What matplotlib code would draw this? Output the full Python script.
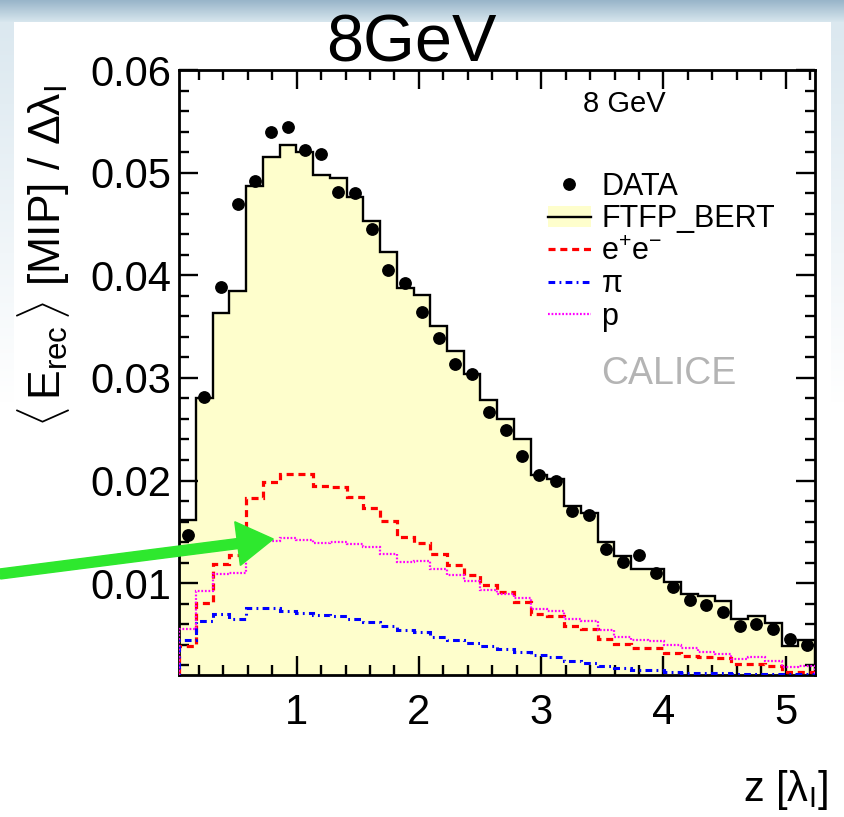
import numpy as np
import matplotlib
matplotlib.use("Agg")
import matplotlib.pyplot as plt
from matplotlib.patches import Patch, FancyArrow
from matplotlib.lines import Line2D
from matplotlib.ticker import MultipleLocator, FixedLocator
from matplotlib.transforms import IdentityTransform

plt.rcParams['font.family'] = ['Liberation Sans', 'DejaVu Sans']
plt.rcParams['mathtext.fontset'] = 'custom'
plt.rcParams['mathtext.rm'] = 'Liberation Sans'
plt.rcParams['mathtext.it'] = 'Liberation Sans:italic'
plt.rcParams['mathtext.bf'] = 'Liberation Sans:bold'

# ---------------- data ----------------
z_range = (0.04, 5.24)   # histogram range in lambda_I
n_bins = 38

data_vals = [0.0147, 0.0281, 0.0389, 0.0469, 0.0492, 0.0540, 0.0544, 0.0522, 0.0518, 0.0481,
             0.0480, 0.0445, 0.0405, 0.0392, 0.0364, 0.0339, 0.0314, 0.0304, 0.0267, 0.0249,
             0.0224, 0.0205, 0.0200, 0.0170, 0.0166, 0.0133, 0.0121, 0.0127, 0.0110, 0.0096,
             0.0084, 0.0079, 0.0072, 0.0058, 0.0060, 0.0055, 0.0046, 0.0040]

ftfp_bert = [0.0162, 0.0280, 0.0363, 0.0385, 0.0487, 0.0515, 0.0527, 0.0520, 0.0498, 0.0495,
             0.0476, 0.0453, 0.0423, 0.0388, 0.0381, 0.0351, 0.0326, 0.0304, 0.0278, 0.0260,
             0.0240, 0.0205, 0.0201, 0.0175, 0.0168, 0.0140, 0.0126, 0.0114, 0.0114, 0.0101,
             0.0089, 0.0087, 0.0083, 0.0065, 0.0068, 0.0061, 0.0039, 0.0045]

ee_comp = [0.0039, 0.0081, 0.0119, 0.0127, 0.0183, 0.0199, 0.0206, 0.0206, 0.0195, 0.0194,
           0.0184, 0.0173, 0.0161, 0.0145, 0.0139, 0.0128, 0.0118, 0.0108, 0.0098, 0.0091,
           0.0082, 0.0070, 0.0068, 0.0058, 0.0055, 0.0046, 0.0041, 0.0037, 0.0037, 0.0032,
           0.0029, 0.0028, 0.0027, 0.0021, 0.0021, 0.0019, 0.0013, 0.0013]

pi_comp = [0.0045, 0.0063, 0.0070, 0.0065, 0.0076, 0.0076, 0.0073, 0.0071, 0.0069, 0.0068,
           0.0065, 0.0062, 0.0058, 0.0054, 0.0052, 0.0048, 0.0045, 0.0042, 0.0039, 0.0036,
           0.0033, 0.0030, 0.0028, 0.0024, 0.0022, 0.0019, 0.0017, 0.0015, 0.0015, 0.0013,
           0.0012, 0.0012, 0.0012, 0.0011, 0.0011, 0.0011, 0.0011, 0.0011]

p_comp = [0.0055, 0.0092, 0.0109, 0.0110, 0.0135, 0.0141, 0.0144, 0.0142, 0.0139, 0.0140,
          0.0138, 0.0135, 0.0128, 0.0121, 0.0122, 0.0114, 0.0108, 0.0102, 0.0093, 0.0089,
          0.0086, 0.0075, 0.0073, 0.0065, 0.0063, 0.0054, 0.0048, 0.0045, 0.0044, 0.0040,
          0.0037, 0.0033, 0.0031, 0.0026, 0.0028, 0.0024, 0.0018, 0.0019]

x_ticks = [1, 2, 3, 4, 5]
y_ticks = [0.01, 0.02, 0.03, 0.04, 0.05, 0.06]
y_tick_labels = ["0.01", "0.02", "0.03", "0.04", "0.05", "0.06"]
legend_labels = ["DATA", "FTFP_BERT", r"e$^{+}$e$^{-}$", "π", "p"]

# ---------------- figure ----------------
W, H = 845, 817
fig = plt.figure(figsize=(W / 100, H / 100), dpi=100)
fig.patch.set_facecolor('white')

# slide background (gradient band at top, light side strips)
bg = np.ones((H, W, 3))
top_c = np.array([0.60, 0.71, 0.79])
bot_c = np.array([0.84, 0.90, 0.93])
band = 22
for r in range(band):
    t = r / (band - 1)
    bg[r, :, :] = top_c * (1 - t) + bot_c * t
side_c = np.array([0.86, 0.91, 0.94])
for r in range(band, H):
    t = min(1.0, (r - band) / 380.0)
    c = side_c * (1 - t) + np.ones(3) * t
    bg[r, :14, :] = c
    bg[r, 831:, :] = c
bga = fig.add_axes([0, 0, 1, 1], zorder=-10)
bga.imshow(bg, aspect='auto', interpolation='bilinear')
bga.axis('off')

ax = fig.add_axes([179.3 / W, 1 - 675 / H, 635.7 / W, 605 / H])
ax.set_facecolor('white')

edges = np.linspace(z_range[0], z_range[1], n_bins + 1)
centers = 0.5 * (edges[:-1] + edges[1:])
ymin, ymax = 0.00105, 0.06

ee_style = (0, (2.2, 1.5))
pi_style = (0, (2.2, 1.4, 0.6, 1.4))
p_style = (0, (0.8, 0.8))

ax.stairs(ftfp_bert, edges, baseline=ymin, fill=True, color='#fefecc', zorder=1)
ax.stairs(ftfp_bert, edges, baseline=ymin, color='black', lw=1.7, zorder=3)
ax.stairs(ee_comp, edges, baseline=0, color='#ff0000', lw=2.3, linestyle=ee_style, zorder=4)
ax.stairs(pi_comp, edges, baseline=0, color='#0000ff', lw=2.2, linestyle=pi_style, zorder=4)
ax.stairs(p_comp, edges, baseline=0, color='#ff00ff', lw=1.6, linestyle=p_style, zorder=4)
ax.plot(centers, data_vals, 'o', color='black', ms=8.2, zorder=5)

ax.set_xlim(z_range)
ax.set_ylim(ymin, ymax)
ax.xaxis.set_major_locator(FixedLocator(x_ticks))
ax.xaxis.set_minor_locator(MultipleLocator(0.2))
ax.yaxis.set_major_locator(FixedLocator(y_ticks))
ax.yaxis.set_minor_locator(MultipleLocator(0.002))
ax.set_yticklabels(y_tick_labels)
ax.set_xticklabels([str(v) for v in x_ticks])
ax.tick_params(which='both', direction='in', top=True, right=True, width=1.7,
               labelsize=30, colors='black')
ax.tick_params(which='major', length=13.5)
ax.tick_params(which='minor', length=7)
ax.tick_params(axis='x', which='major', pad=13)
ax.tick_params(axis='y', which='major', pad=6)
for s in ax.spines.values():
    s.set_linewidth(2.0)

# titles / labels
fig.text(411 / W, 1 - 62 / H, "8GeV", fontsize=48, ha='center', va='baseline')
fig.text(828 / W, 1 - 801 / H, r"z [λ$_{\rm I}$]", fontsize=30, ha='right', va='baseline')
fig.text(44 / W, 1 - 256 / H,
         r"$\langle\,$E$_{\rm rec}$$\,\rangle$ [MIP] / Δλ$_{\rm I}$",
         fontsize=32, rotation=90, ha='center', va='center')

ax.text(624 / W, 1 - 104 / H, "8 GeV", transform=fig.transFigure, fontsize=21,
        ha='center', va='center')
ax.text(669 / W, 1 - 374 / H, "CALICE", transform=fig.transFigure, fontsize=27,
        color='#b4b4b4', ha='center', va='center')

handles = [
    Line2D([], [], marker='o', color='black', ls='none', ms=8.2),
    (Patch(facecolor='#fefecc', edgecolor='none'), Line2D([], [], color='black', lw=1.7)),
    Line2D([], [], color='#ff0000', lw=2.3, linestyle=ee_style),
    Line2D([], [], color='#0000ff', lw=2.2, linestyle=pi_style),
    Line2D([], [], color='#ff00ff', lw=1.6, linestyle=p_style),
]
ax.legend(handles, legend_labels, loc='upper left',
          bbox_to_anchor=(548 / W, 1 - 172 / H), bbox_transform=fig.transFigure,
          fontsize=22, frameon=False, handlelength=1.4, handletextpad=0.35,
          labelspacing=0.08, borderpad=0, borderaxespad=0, handleheight=0.7)

# green annotation arrow (slide decoration)
arr = FancyArrow(0, H - 574, 273.3, 35, width=10, head_width=44, head_length=36,
                 length_includes_head=True, color='#2ee82e', transform=IdentityTransform(),
                 zorder=20)
arr.set_clip_on(False)
fig.add_artist(arr)

fig.savefig("out.png", dpi=100)
